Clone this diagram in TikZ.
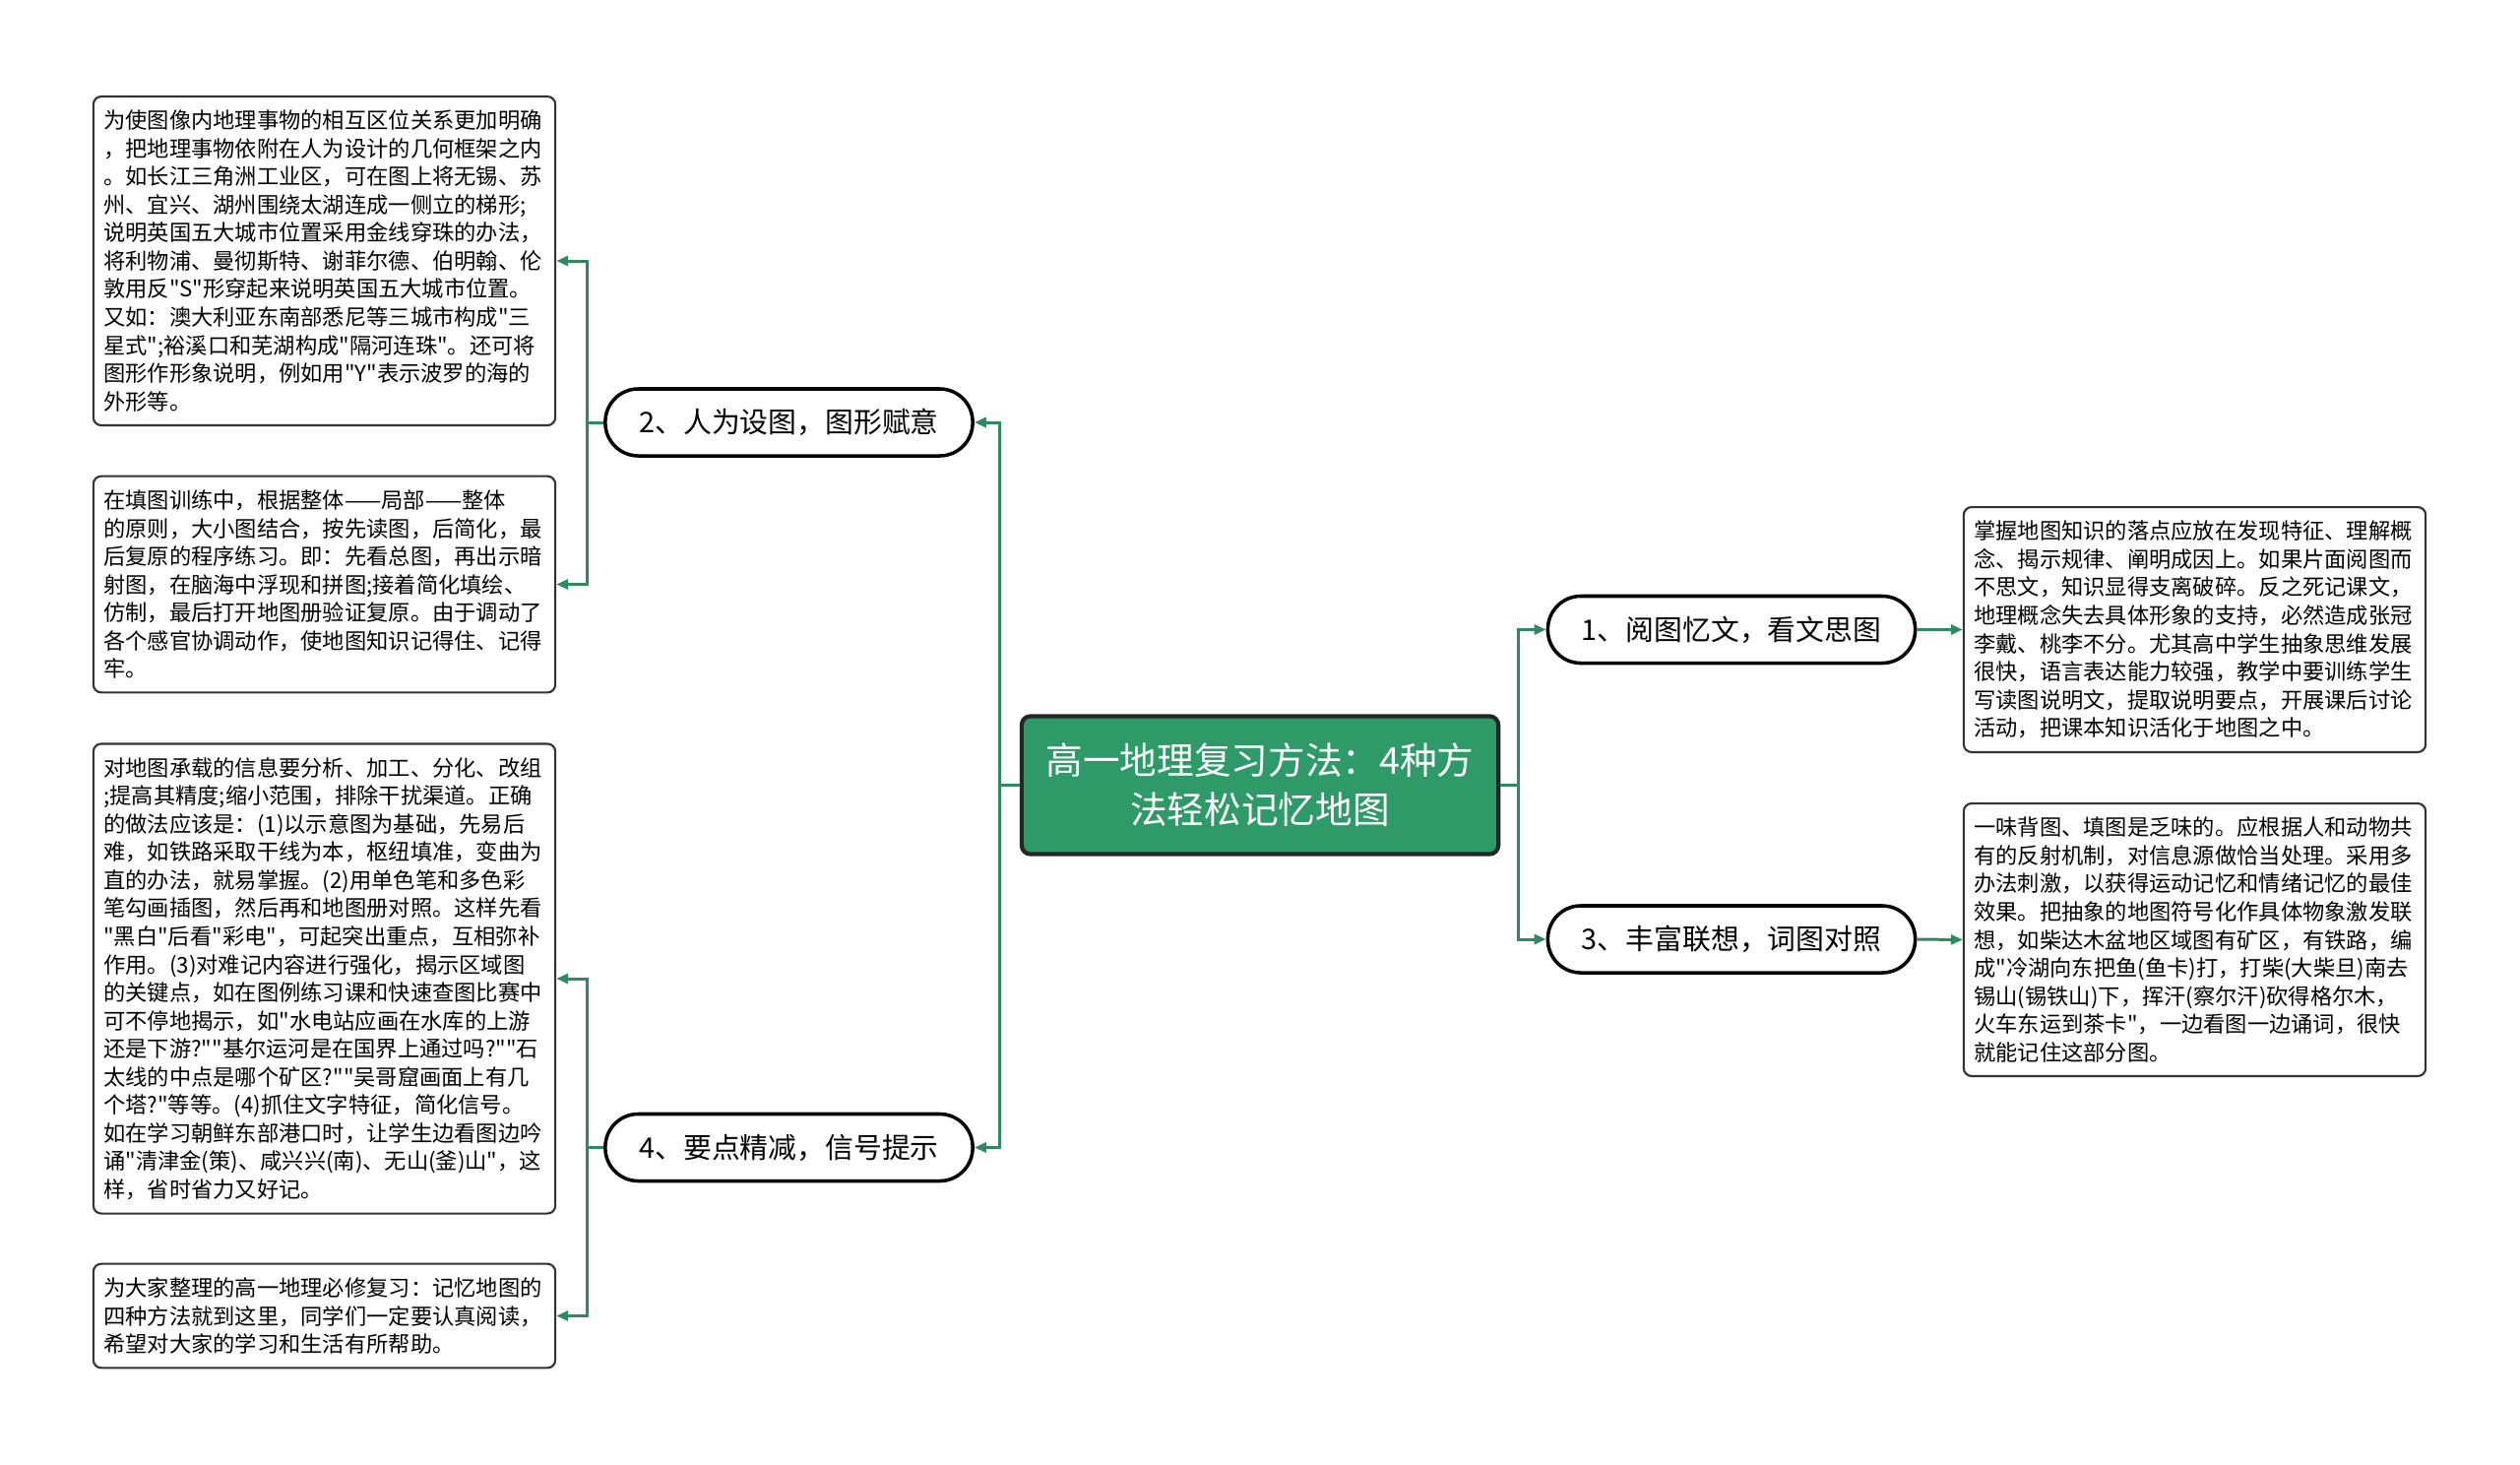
\documentclass[tikz,border=0pt]{standalone}
\usepackage{fontspec}
\setmainfont{Noto Sans CJK SC}[Ligatures=TeXOff]
\usetikzlibrary{arrows.meta}

\definecolor{topicgreen}{RGB}{46,154,104}
\definecolor{linkgreen}{RGB}{44,140,96}

\begin{document}
\begin{tikzpicture}[x=0.01cm,y=-0.01cm,
    topic/.style={draw=black!85, line width=1.2pt, fill=topicgreen, rounded corners=0.09cm,
      text=white, align=center, minimum width=4.84cm, minimum height=1.4cm,
      font=\fontsize{10.7pt}{14.2pt}\selectfont},
    branch/.style={draw=black, line width=1pt, fill=white, rounded corners=0.335cm,
      minimum width=3.73cm, minimum height=0.68cm, font=\fontsize{8.2pt}{10pt}\selectfont},
    leaf/.style={draw=black!80, line width=0.6pt, rounded corners=0.08cm, fill=white,
      text width=4.48cm, align=left, inner xsep=0.105cm, inner ysep=0.14cm,
      font=\fontsize{6.33pt}{8.11pt}\selectfont},
    link/.style={draw=linkgreen, line width=0.85pt, -{Triangle[length=0.12cm,width=0.1cm]}}]
    \useasboundingbox (0,0) rectangle (2560,1487);

    % Central topic
    \node[topic] (topic) at (1280,797.5) {高一地理复习方法：4种方\\法轻松记忆地图};

    % Branches
    \node[branch] (n1) at (1759,639.5) {1、阅图忆文，看文思图};
    \node[branch] (n2) at (801.5,429) {2、人为设图，图形赋意};
    \node[branch] (n3) at (1759,954) {3、丰富联想，词图对照};
    \node[branch] (n4) at (801.5,1165.5) {4、要点精减，信号提示};

    % Right details
    \node[leaf] (b1) at (2229.5,639.5) {掌握地图知识的落点应放在发现特征、理解概\\
      念、揭示规律、阐明成因上。如果片面阅图而\\
      不思文，知识显得支离破碎。反之死记课文，\\
      地理概念失去具体形象的支持，必然造成张冠\\
      李戴、桃李不分。尤其高中学生抽象思维发展\\
      很快，语言表达能力较强，教学中要训练学生\\
      写读图说明文，提取说明要点，开展课后讨论\\
      活动，把课本知识活化于地图之中。};
    \node[leaf] (b3) at (2229.5,954.5) {一味背图、填图是乏味的。应根据人和动物共\\
      有的反射机制，对信息源做恰当处理。采用多\\
      办法刺激，以获得运动记忆和情绪记忆的最佳\\
      效果。把抽象的地图符号化作具体物象激发联\\
      想，如柴达木盆地区域图有矿区，有铁路，编\\
      成"冷湖向东把鱼(鱼卡)打，打柴(大柴旦)南去\\
      锡山(锡铁山)下，挥汗(察尔汗)砍得格尔木，\\
      火车东运到茶卡"，一边看图一边诵词，很快\\
      就能记住这部分图。};

    % Left details
    \node[leaf] (b2a) at (329.5,265) {为使图像内地理事物的相互区位关系更加明确\\
      ，把地理事物依附在人为设计的几何框架之内\\
      。如长江三角洲工业区，可在图上将无锡、苏\\
      州、宜兴、湖州围绕太湖连成一侧立的梯形;\\
      说明英国五大城市位置采用金线穿珠的办法，\\
      将利物浦、曼彻斯特、谢菲尔德、伯明翰、伦\\
      敦用反"S"形穿起来说明英国五大城市位置。\\
      又如：澳大利亚东南部悉尼等三城市构成"三\\
      星式";裕溪口和芜湖构成"隔河连珠"。还可将\\
      图形作形象说明，例如用"Y"表示波罗的海的\\
      外形等。};
    \node[leaf] (b2b) at (329.5,593.5) {在填图训练中，根据整体——局部——整体\\
      的原则，大小图结合，按先读图，后简化，最\\
      后复原的程序练习。即：先看总图，再出示暗\\
      射图，在脑海中浮现和拼图;接着简化填绘、\\
      仿制，最后打开地图册验证复原。由于调动了\\
      各个感官协调动作，使地图知识记得住、记得\\
      牢。};
    \node[leaf] (b4a) at (329.5,994) {对地图承载的信息要分析、加工、分化、改组\\
      ;提高其精度;缩小范围，排除干扰渠道。正确\\
      的做法应该是：(1)以示意图为基础，先易后\\
      难，如铁路采取干线为本，枢纽填准，变曲为\\
      直的办法，就易掌握。(2)用单色笔和多色彩\\
      笔勾画插图，然后再和地图册对照。这样先看\\
      "黑白"后看"彩电"，可起突出重点，互相弥补\\
      作用。(3)对难记内容进行强化，揭示区域图\\
      的关键点，如在图例练习课和快速查图比赛中\\
      可不停地揭示，如"水电站应画在水库的上游\\
      还是下游?""基尔运河是在国界上通过吗?""石\\
      太线的中点是哪个矿区?""吴哥窟画面上有几\\
      个塔?"等等。(4)抓住文字特征，简化信号。\\
      如在学习朝鲜东部港口时，让学生边看图边吟\\
      诵"清津金(策)、咸兴兴(南)、无山(釜)山"，这\\
      样，省时省力又好记。};
    \node[leaf] (b4b) at (329.5,1336.5) {为大家整理的高一地理必修复习：记忆地图的\\
      四种方法就到这里，同学们一定要认真阅读，\\
      希望对大家的学习和生活有所帮助。};

    % Connectors
    \draw[link] (topic.west) -- ++(-20,0) |- (n2.east);
    \draw[link] (topic.west) -- ++(-20,0) |- (n4.east);
    \draw[link] (topic.east) -- ++(18,0) |- (n1.west);
    \draw[link] (topic.east) -- ++(18,0) |- (n3.west);
    \draw[link] (n1.east) -- (b1.west);
    \draw[link] (n3.east) -- (b3.west);
    \draw[link] (n2.west) -- ++(-17,0) |- (b2a.east);
    \draw[link] (n2.west) -- ++(-17,0) |- (b2b.east);
    \draw[link] (n4.west) -- ++(-17,0) |- (b4a.east);
    \draw[link] (n4.west) -- ++(-17,0) |- (b4b.east);
\end{tikzpicture}
\end{document}
